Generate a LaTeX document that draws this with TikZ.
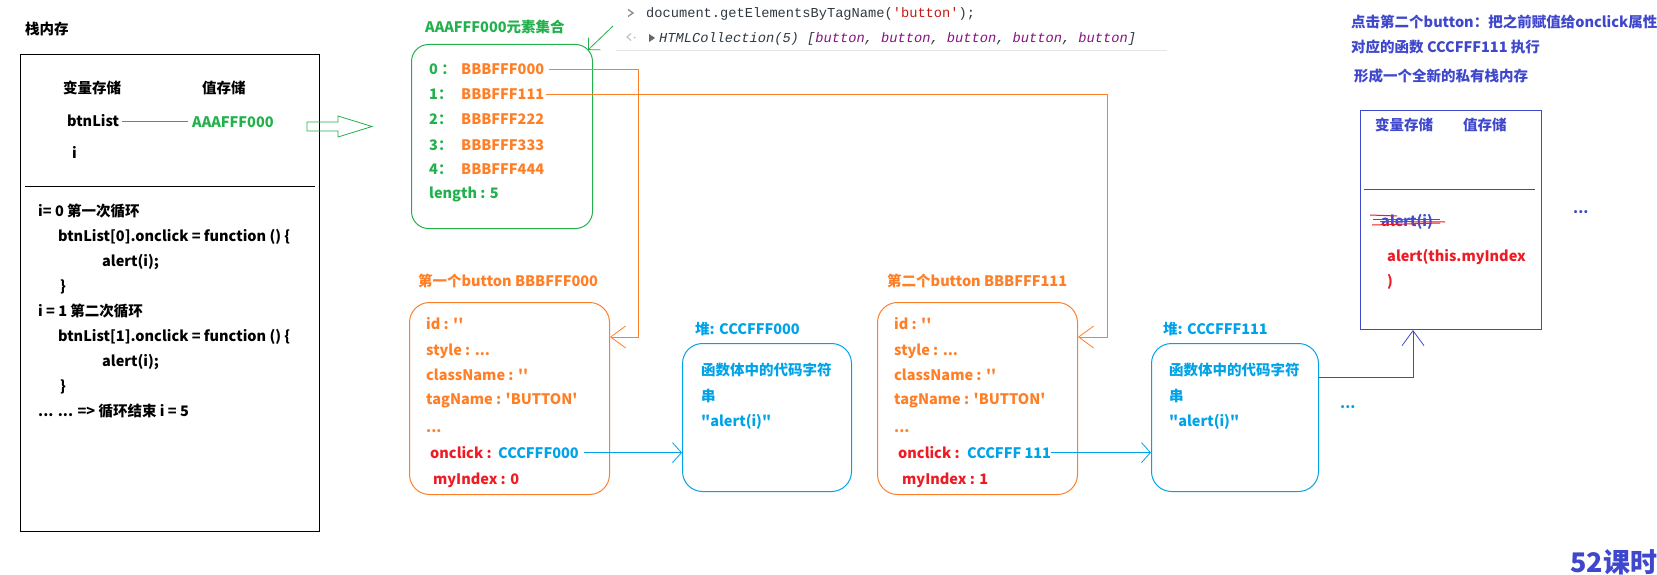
\documentclass[tikz,border=0pt]{standalone}
\usepackage{fontspec}
\setmainfont{Noto Sans CJK SC}[Ligatures=TeXOff]
\newfontfamily\monof{Liberation Mono}[Ligatures=TeXOff]
\usetikzlibrary{arrows.meta}
\definecolor{pgreen}{HTML}{22B14C}
\definecolor{porange}{HTML}{FF7F27}
\definecolor{pred}{HTML}{ED1C24}
\definecolor{pblue}{HTML}{00A2E8}
\definecolor{pdblue}{HTML}{3F48CC}
\definecolor{cgray}{HTML}{303942}
\definecolor{cpurple}{HTML}{881280}
\definecolor{cred}{HTML}{C41A16}
\begin{document}
\begin{tikzpicture}[x=1pt,y=-1pt,
  tx/.style={anchor=base west,inner sep=0pt,font=\bfseries\fontsize{14.5}{17}\selectfont},
  big/.style={anchor=base west,inner sep=0pt,font=\bfseries\fontsize{27}{30}\selectfont},
  mono/.style={anchor=base west,inner sep=0pt,font=\monof\fontsize{13.7}{16}\selectfont},
  monoi/.style={anchor=base west,inner sep=0pt,font=\monof\itshape\fontsize{13.7}{16}\selectfont},
  rbox/.style={draw,line width=1pt,inner sep=0pt,anchor=north west,rounded corners=#1},
  sqbox/.style={draw,line width=1pt,inner sep=0pt,anchor=north west},
  conn/.style={line width=0.8pt},
  bigbarb/.style={conn,-{Straight Barb[length=15pt,width=22pt,line width=0.8pt]}},
  midbarb/.style={conn,-{Straight Barb[length=9pt,width=20pt,line width=0.8pt]}},
  smallbarb/.style={conn,-{Straight Barb[length=8.5pt,width=17pt,line width=0.8pt]}}
]
\fill[white] (0,0) rectangle (1657,575);
\useasboundingbox (0,0) rectangle (1657,575);

% ---------- stack memory ----------
\node[tx] (stt) at (25,35) {栈内存};
\node[sqbox,minimum width=299,minimum height=477] (stack) at (20,54) {};
\node[tx] (sv) at (63,94) {变量存储};
\node[tx] (sz) at (202,94) {值存储};
\node[tx] (bl) at (67,127) {btnList};
\node[tx,text=pgreen] (av) at (192,128) {AAAFFF000};
\draw[conn,pgreen] ([xshift=3pt]bl.east) -- ([xshift=-4pt]bl.east -| av.west);
\node[tx] (iv) at (72,159) {i};
\draw[line width=1pt] (25,186) -- (315,186);
\node[tx] (c1) at (38,216) {i= 0 第一次循环};
\node[tx] (c2) at (58,241) {btnList[0].onclick = function () \{};
\node[tx] (c3) at (102,266) {alert(i);};
\node[tx] (c4) at (60,291) {\}};
\node[tx] (c5) at (38,316) {i = 1 第二次循环};
\node[tx] (c6) at (58,341) {btnList[1].onclick = function () \{};
\node[tx] (c7) at (102,366) {alert(i);};
\node[tx] (c8) at (60,391) {\}};
\node[tx] (c9) at (38,416) {... ... => 循环结束 i = 5};

% hollow arrow
\draw[pgreen,line width=0.8pt] (307,122) -- (338,122) -- (338,116) -- (372,126.5) -- (338,137) -- (338,131) -- (307,131) -- cycle;

% ---------- element collection ----------
\node[tx,text=pgreen] (gt) at (425,33) {AAAFFF000元素集合};
\node[rbox=17,pgreen,minimum width=181,minimum height=184] (gbox) at (411,44) {};
\node[tx,text=pgreen] (k0) at (429,75) {0 ：};
\node[tx,text=pgreen] (k1) at (429,100) {1：};
\node[tx,text=pgreen] (k2) at (429,125) {2：};
\node[tx,text=pgreen] (k3) at (429,150) {3：};
\node[tx,text=pgreen] (k4) at (429,175) {4：};
\node[tx,text=porange] (v0) at (461,75) {BBBFFF000};
\node[tx,text=porange] (v1) at (461,100) {BBBFFF111};
\node[tx,text=porange] (v2) at (461,125) {BBBFFF222};
\node[tx,text=porange] (v3) at (461,150) {BBBFFF333};
\node[tx,text=porange] (v4) at (461,175) {BBBFFF444};
\node[tx,text=pgreen] (len) at (429,198) {length : 5};

% ---------- console ----------
\coordinate (cns) at (613,26);
\draw[smallbarb,pgreen] (cns) -- ([shift={(-5,6)}]gbox.north east);
\draw[line width=1.3pt,color=black!45] (628,9.5) -- (633,13) -- (628,16.5);
\node[mono] (con1) at (646,18) {\textcolor{cgray}{document.getElementsByTagName(}\textcolor{cred}{'button'}\textcolor{cgray}{);}};
\draw[line width=1.1pt,color=black!25] (631,33.5) -- (627,37) -- (631,40.5);
\fill[black!25] (634.5,37.5) circle (1pt);
\fill[black!60] (649,34) -- (655,38) -- (649,42) -- cycle;
\node[monoi] (con2) at (659,43) {\textcolor{cgray}{HTMLCollection(5) [}\textcolor{cpurple}{button}\textcolor{cgray}{, }\textcolor{cpurple}{button}\textcolor{cgray}{, }\textcolor{cpurple}{button}\textcolor{cgray}{, }\textcolor{cpurple}{button}\textcolor{cgray}{, }\textcolor{cpurple}{button}\textcolor{cgray}{]}};
\draw[line width=0.8pt,color=black!10] (616,50) -- (1167,50);

% ---------- button 1 ----------
\node[tx,text=porange] (ot1) at (418,286) {第一个button BBBFFF000};
\node[rbox=20,porange,minimum width=200,minimum height=192] (ob1) at (409,302) {};
\node[tx,text=porange] (a1) at (426,329) {id : ''};
\node[tx,text=porange] (a2) at (426,355) {style : ...};
\node[tx,text=porange] (a3) at (426,380) {className : ''};
\node[tx,text=porange] (a4) at (426,404) {tagName : 'BUTTON'};
\node[tx,text=porange] (a5) at (426,432) {...};
\node[tx,text=pred] (a6) at (430,458) {onclick :};
\node[tx,text=pblue] (cf0) at (498,458) {CCCFFF000};
\node[tx,text=pred] (a7) at (433,484) {myIndex : 0};

\node[tx,text=pblue] (bt1) at (695,334) {堆: CCCFFF000};
\node[rbox=20,pblue,minimum width=169,minimum height=148] (bb1) at (682,343) {};
\node[tx,text=pblue] (b1a) at (701,375) {函数体中的代码字符};
\node[tx,text=pblue] (b1b) at (701,401) {串};
\node[tx,text=pblue] (b1c) at (701,426) {"alert(i)"};

% ---------- button 2 ----------
\node[tx,text=porange] (ot2) at (887,286) {第二个button BBBFFF111};
\node[rbox=20,porange,minimum width=200,minimum height=192] (ob2) at (877,302) {};
\node[tx,text=porange] (d1) at (894,329) {id : ''};
\node[tx,text=porange] (d2) at (894,355) {style : ...};
\node[tx,text=porange] (d3) at (894,380) {className : ''};
\node[tx,text=porange] (d4) at (894,404) {tagName : 'BUTTON'};
\node[tx,text=porange] (d5) at (894,432) {...};
\node[tx,text=pred] (d6) at (898,458) {onclick :};
\node[tx,text=pblue] (cf1) at (967,458) {CCCFFF 111};
\node[tx,text=pred] (d7) at (902,484) {myIndex : 1};

\node[tx,text=pblue] (bt2) at (1163,334) {堆: CCCFFF111};
\node[rbox=20,pblue,minimum width=167,minimum height=148] (bb2) at (1151,343) {};
\node[tx,text=pblue] (b2a) at (1169,375) {函数体中的代码字符};
\node[tx,text=pblue] (b2b) at (1169,401) {串};
\node[tx,text=pblue] (b2c) at (1169,426) {"alert(i)"};
\node[tx,text=pblue] (dots1) at (1340,408) {...};

% ---------- private stack ----------
\node[tx,text=pdblue] (n1) at (1351,28) {点击第二个button：把之前赋值给onclick属性};
\node[tx,text=pdblue] (n2) at (1351,53) {对应的函数 CCCFFF111 执行};
\node[tx,text=pdblue] (n3) at (1354,82) {形成一个全新的私有栈内存};
\node[sqbox,pdblue,minimum width=181,minimum height=219] (db) at (1360,110) {};
\node[tx,text=pdblue] (dv) at (1375,131) {变量存储};
\node[tx,text=pdblue] (dz) at (1463,131) {值存储};
\draw[line width=0.8pt,pdblue] (1364,189) -- (1535,189);
\node[tx,text=pdblue] (old) at (1381,226) {alert(i)};
\draw[line width=1pt,pred] (1370,215) -- (1397,216);
\draw[line width=1pt,pred] (1373,219) -- (1440,219);
\draw[line width=1pt,pred] (1380,221.5) -- (1445,222);
\draw[line width=1pt,pred] (1372,225) -- (1440,223);
\node[tx,text=pred] (new1) at (1387,261) {alert(this.myIndex};
\node[tx,text=pred] (new2) at (1387,286) {)};
\node[tx,text=pdblue] (dots2) at (1573,213) {...};
\node[big,text=pdblue] (lesson) at (1570,572) {52课时};

% ---------- connectors ----------
\coordinate (r1) at (638,337);
\draw[bigbarb,porange] ([xshift=5pt]v0.east) -| (r1) -- (r1 -| ob1.east);
\coordinate (r2) at (1107,337);
\draw[bigbarb,porange] ([xshift=2pt]v1.east) -| (r2) -- (r2 -| ob2.east);
\draw[midbarb,pblue] ([xshift=5pt]cf0.east) -- (cf0.east -| bb1.west);
\draw[midbarb,pblue] (cf1.east) -- (cf1.east -| bb2.west);
\coordinate (r3) at (1413,377);
\draw[bigbarb,pdblue] (r3 -| bb2.east) -- (r3) -- (r3 |- db.south);
\end{tikzpicture}
\end{document}
